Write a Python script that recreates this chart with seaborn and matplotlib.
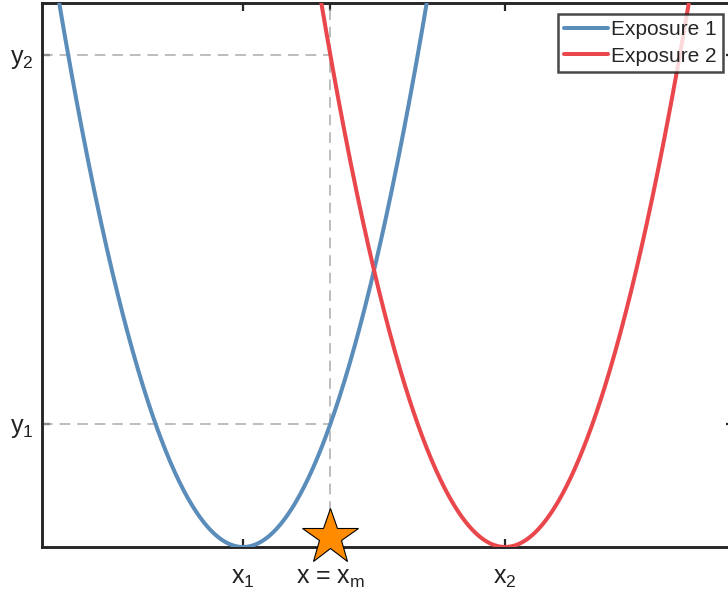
import numpy as np
import pandas as pd
import matplotlib
matplotlib.use("Agg")
import matplotlib.pyplot as plt
import matplotlib.transforms as mtransforms
import seaborn as sns

# ---- data ----
series_names = ["Exposure 1", "Exposure 2"]
series_centers = [0.0, 3.0]          # x1, x2
series_colors = ["#5B8DBA", "#E9474B"]
x_m = 1.0
y_levels = [1.0, 4.0]                 # y1, y2
x_tick_pos = [0.0, 1.0, 3.0]
x_tick_labels = ["x$_1$", "x = x$_m$", "x$_2$"]
y_tick_labels = ["y$_1$", "y$_2$"]

sns.set_style("white")
plt.rcParams["font.family"] = ["Liberation Sans", "DejaVu Sans"]
plt.rcParams["mathtext.default"] = "regular"

xlim = (-2.30, 5.62)
ylim = (0.0, 4.423)

xs = np.linspace(xlim[0], xlim[1], 800)
frames = []
for name, c in zip(series_names, series_centers):
    frames.append(pd.DataFrame({"x": xs, "y": (xs - c) ** 2, "series": name}))
df = pd.concat(frames, ignore_index=True)

fig = plt.figure(figsize=(7.28, 5.96), dpi=100)
ax = fig.add_axes([42 / 728, 49 / 596, 692 / 728, 544 / 596])

dash_kw = dict(color="#ababab", lw=1.1, ls=(0, (7, 4.5)), zorder=1)
for yl in y_levels:
    ax.plot([xlim[0], x_m], [yl, yl], **dash_kw)
ax.plot([x_m, x_m], [ylim[0], ylim[1]], **dash_kw)

sns.lineplot(data=df, x="x", y="y", hue="series", palette=series_colors,
             linewidth=2.9, ax=ax, legend=True, zorder=3)

ax.set_xlim(*xlim)
ax.set_ylim(*ylim)
ax.set_xlabel("")
ax.set_ylabel("")
ax.set_xticks(x_tick_pos)
ax.set_xticklabels(x_tick_labels, fontsize=18)
ax.set_yticks(y_levels)
ax.set_yticklabels(y_tick_labels, fontsize=18)
ax.tick_params(axis="both", direction="in", length=5.8, width=1.6,
               color="#262626", top=True, right=True, bottom=True, left=True,
               labelcolor="#222222")
ax.tick_params(axis="x", pad=14)
ax.tick_params(axis="y", pad=6)
for sp in ax.spines.values():
    sp.set_visible(True)
    sp.set_linewidth(2.1)
    sp.set_color("#262626")

# star marker at x = x_m
offset = mtransforms.ScaledTranslation(0, 10 / 100, fig.dpi_scale_trans)
ax.plot([x_m], [0.0], marker="*", ms=42, mfc="#FF8C00", mec="black",
        mew=0.8, clip_on=False, zorder=10, transform=ax.transData + offset)

leg = ax.legend(loc="upper right", bbox_to_anchor=(723 / 728, 1 - 14 / 596),
                bbox_transform=fig.transFigure, fontsize=15, frameon=True,
                fancybox=False, handlelength=2.1, handletextpad=0.15,
                borderpad=0.3, labelspacing=0.35, borderaxespad=0)
leg.get_frame().set_edgecolor("#1a1a1a")
leg.get_frame().set_linewidth(1.8)
for h in leg.get_lines():
    h.set_linewidth(2.9)

fig.savefig("out.png", dpi=100)
